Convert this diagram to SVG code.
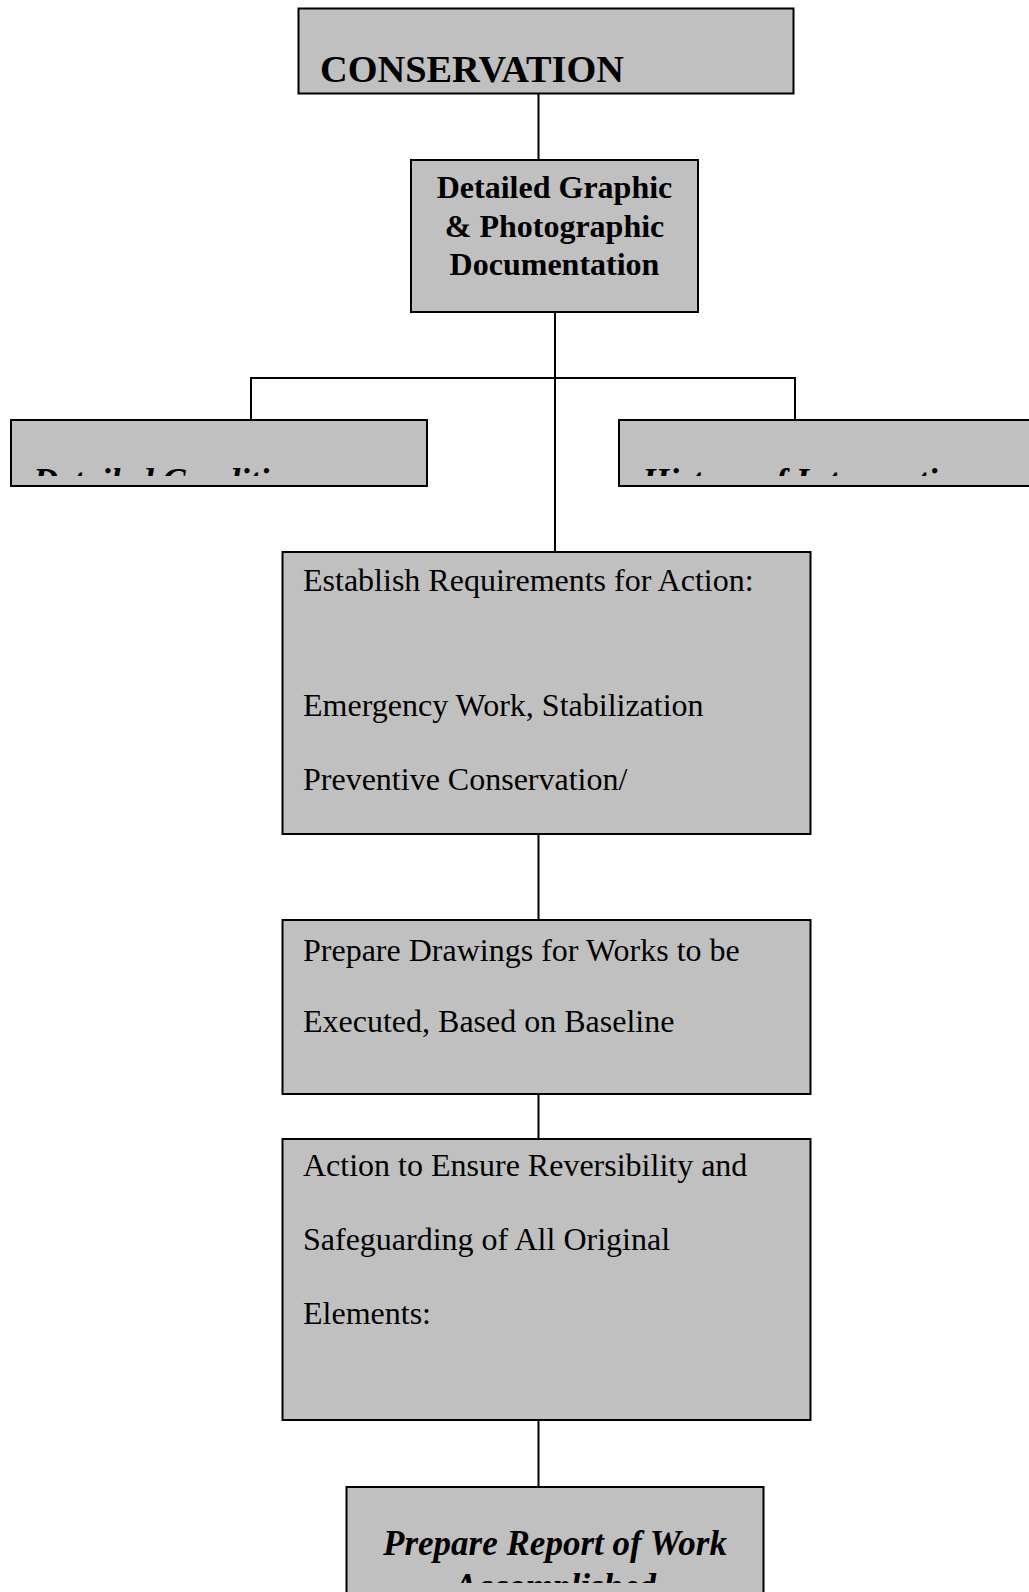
<svg xmlns="http://www.w3.org/2000/svg" width="1029" height="1592" viewBox="0 0 1029 1592">
  <style>
    .box { fill: #c0c0c0; stroke: #000; stroke-width: 2; }
    .link { fill: none; stroke: #000; stroke-width: 2; }
    .title { font-family: "Liberation Serif", "Times New Roman", serif; font-weight: bold; font-size: 37.5px; fill: #000; }
    .bold { font-family: "Liberation Serif", "Times New Roman", serif; font-weight: bold; font-size: 32px; fill: #000; text-anchor: middle; }
    .plain { font-family: "Liberation Serif", "Times New Roman", serif; font-size: 32px; fill: #000; }
    .emph { font-family: "Liberation Serif", "Times New Roman", serif; font-weight: bold; font-style: italic; font-size: 35px; fill: #000; }
  </style>
  <defs>
    <!-- inner text areas of the boxes; overflowing lines are hidden -->
    <clipPath id="clip-condition"><rect x="12" y="421" width="414" height="55"/></clipPath>
    <clipPath id="clip-history"><rect x="620" y="421" width="420" height="55"/></clipPath>
    <clipPath id="clip-report"><rect x="348" y="1488" width="414" height="95"/></clipPath>
  </defs>
  <rect width="1029" height="1592" fill="#fff"/>

  <g id="connectors">
    <path class="link" d="M538.5 93.5 V160"/>
    <path class="link" d="M555 312 V552"/>
    <path class="link" d="M251 420 V378 H795 V420"/>
    <path class="link" d="M538.5 834 V920"/>
    <path class="link" d="M538.5 1094 V1139"/>
    <path class="link" d="M538.5 1420 V1487"/>
  </g>

  <g id="conservation">
    <rect class="box" x="298.5" y="8.5" width="495" height="85"/>
    <text class="title" x="320" y="82" textLength="304" lengthAdjust="spacingAndGlyphs">CONSERVATION</text>
  </g>

  <g id="documentation">
    <rect class="box" x="411" y="160" width="287" height="152"/>
    <text class="bold" x="554.5" y="198">Detailed Graphic</text>
    <text class="bold" x="554.5" y="236.5">&amp; Photographic</text>
    <text class="bold" x="554.5" y="275">Documentation</text>
  </g>

  <g id="condition">
    <rect class="box" x="11" y="420" width="416" height="66"/>
    <text class="emph" x="33" y="493" clip-path="url(#clip-condition)">Detailed Condition</text>
  </g>

  <g id="history">
    <rect class="box" x="619" y="420" width="420" height="66"/>
    <text class="emph" x="642" y="493" clip-path="url(#clip-history)">History of Interventions</text>
  </g>

  <g id="requirements">
    <rect class="box" x="282.5" y="552" width="528" height="282"/>
    <text class="plain" x="303" y="591">Establish Requirements for Action:</text>
    <text class="plain" x="303" y="716">Emergency Work, Stabilization</text>
    <text class="plain" x="303" y="790">Preventive Conservation/</text>
  </g>

  <g id="drawings">
    <rect class="box" x="282.5" y="920" width="528" height="174"/>
    <text class="plain" x="303" y="961">Prepare Drawings for Works to be</text>
    <text class="plain" x="303" y="1032">Executed, Based on Baseline</text>
  </g>

  <g id="reversibility">
    <rect class="box" x="282.5" y="1139" width="528" height="281"/>
    <text class="plain" x="303" y="1176">Action to Ensure Reversibility and</text>
    <text class="plain" x="303" y="1250">Safeguarding of All Original</text>
    <text class="plain" x="303" y="1324">Elements:</text>
  </g>

  <g id="report">
    <rect class="box" x="346.5" y="1487" width="417" height="120"/>
    <g clip-path="url(#clip-report)">
      <text class="emph" x="555" y="1555" text-anchor="middle">Prepare Report of Work</text>
      <text class="emph" x="555" y="1598" text-anchor="middle">Accomplished</text>
    </g>
  </g>
</svg>
